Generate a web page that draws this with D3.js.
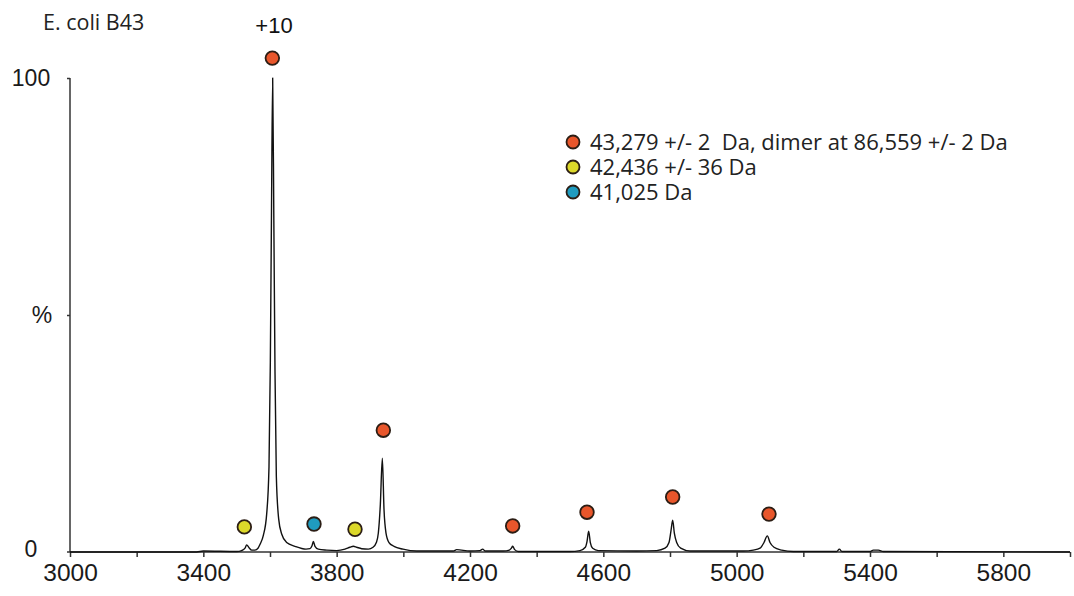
<!DOCTYPE html>
<html>
<head>
<meta charset="utf-8">
<script src="https://cdn.jsdelivr.net/npm/d3@7"></script>
<style>
  body { margin: 0; background: #fff; }
  svg { display: block; }
  .legend text { white-space: pre; }
</style>
</head>
<body>
<div id="chart"></div>
<script>
// spectrum trace: m/z and relative intensity (%)
const mz = [3000, 3380, 3400, 3500, 3515, 3525, 3530, 3537, 3545, 3555, 3564, 3570, 3580, 3590, 3597, 3601, 3604.5, 3608, 3611.5, 3615, 3619, 3626, 3635, 3650, 3675, 3708, 3720, 3726, 3730, 3735, 3745, 3770, 3800, 3825, 3840, 3850, 3860, 3875, 3895, 3909, 3919, 3925, 3931, 3937, 3942, 3948, 3957, 3972, 3999, 4040, 4150, 4160, 4200, 4230, 4238, 4246, 4300, 4318, 4324, 4328, 4334, 4345, 4500, 4530, 4546, 4551, 4556, 4561, 4568, 4585, 4700, 4760, 4785, 4797, 4803, 4808, 4813, 4820, 4832, 4860, 5020, 5050, 5070, 5082, 5092, 5100, 5112, 5135, 5170, 5300, 5308, 5316, 5400, 5410, 5425, 5440, 6000];
const pct = [0, 0, 0.2, 0.1, 0.3, 0.8, 1.5, 0.9, 0.4, 0.4, 0.8, 1.6, 3.5, 8, 18, 40, 72, 100, 70, 38, 16, 7, 3.8, 2.0, 1.2, 0.6, 0.7, 1.3, 2.2, 1.2, 0.6, 0.4, 0.3, 0.6, 1.0, 1.2, 1.0, 0.7, 0.6, 1.0, 2.0, 4, 10, 19.8, 9, 4, 2.0, 1.2, 0.6, 0.2, 0.2, 0.5, 0.2, 0.3, 0.6, 0.2, 0.2, 0.4, 0.8, 1.2, 0.5, 0.1, 0.1, 0.3, 1.0, 2.2, 4.4, 2.0, 0.8, 0.3, 0.2, 0.3, 0.8, 2.0, 4.5, 6.7, 4.0, 2.0, 0.8, 0.2, 0.2, 0.4, 0.8, 2.0, 3.4, 2.0, 1.0, 0.4, 0.1, 0.1, 0.6, 0.1, 0.1, 0.4, 0.4, 0.1, 0];

// charge-state markers
const markMz = [3523, 3607, 3732, 3855, 3940, 4328, 4551, 4808, 5097];
const markPct = [5.3, 104.2, 5.9, 4.8, 25.7, 5.5, 8.4, 11.6, 8.0];
const markSeries = ['b', 'a', 'c', 'b', 'a', 'a', 'a', 'a', 'a'];

const seriesKeys = ['a', 'b', 'c'];
const seriesLabels = ['43,279 +/- 2  Da, dimer at 86,559 +/- 2 Da', '42,436 +/- 36 Da', '41,025 Da'];
const seriesColors = ['#e8562b', '#dcd82a', '#1f9bbf'];

const xTicks = [3000, 3200, 3400, 3600, 3800, 4000, 4200, 4400, 4600, 4800, 5000, 5200, 5400, 5600, 5800, 6000];
const xLabels = [3000, 3400, 3800, 4200, 4600, 5000, 5400, 5800];
const yTicks = [0, 50, 100];

const width = 1074, height = 596;

const x = d3.scaleLinear().domain([3000, 6000]).range([70, 1070]);
const y = d3.scaleLinear().domain([0, 100]).range([552, 78]);
const color = d3.scaleOrdinal().domain(seriesKeys).range(seriesColors);

const svg = d3.select('#chart')
.append('svg')
.attr('width', width)
.attr('height', height);

// x axis
const xAxis = svg.append('g')
.attr('transform', `translate(0,${y(0)})`)
.call(d3.axisBottom(x)
  .tickValues(xTicks)
  .tickSize(5)
  .tickPadding(7)
  .tickFormat(d => xLabels.includes(d) ? d : ''));
xAxis.select('.domain').attr('d', `M${x(3000) - 3},0H${x(6000)}`);
xAxis.selectAll('path, line').attr('stroke', '#333').attr('stroke-width', 1.5);
xAxis.selectAll('text')
.attr('font-family', 'Liberation Sans, Arial, sans-serif')
.attr('font-size', 24.5)
.attr('fill', '#1a1a1a');

// y axis
const yAxis = svg.append('g')
.attr('transform', `translate(${x(3000)},0)`)
.call(d3.axisLeft(y)
  .tickValues(yTicks)
  .tickSize(3)
  .tickFormat(d => d === 50 ? '%' : d));
yAxis.select('.domain').attr('d', `M0,${y(100)}V${y(0)}`);
yAxis.selectAll('path, line').attr('stroke', '#333').attr('stroke-width', 1.5);
yAxis.selectAll('.tick').filter(d => d === 0).select('line').remove();
yAxis.selectAll('text')
.attr('font-family', 'Liberation Sans, Arial, sans-serif')
.attr('font-size', 23)
.attr('fill', '#1a1a1a')
.attr('text-anchor', 'middle')
.attr('x', d => d === 50 ? -28 : -39)
.attr('dy', d => d === 0 ? '0.2em' : '0.32em');

// spectrum
const pts = mz.map((m, i) => [m, pct[i]]);
svg.append('path')
.datum(pts)
.attr('fill', 'none')
.attr('stroke', '#111')
.attr('stroke-width', 1.4)
.attr('stroke-linejoin', 'round')
.attr('d', d3.line().curve(d3.curveMonotoneX).x(d => x(d[0])).y(d => y(d[1])));

// markers
svg.append('g')
.selectAll('circle')
.data(markMz.map((m, i) => ({m: m, p: markPct[i], s: markSeries[i]})))
.join('circle')
.attr('cx', d => x(d.m))
.attr('cy', d => y(d.p))
.attr('r', 6.8)
.attr('fill', d => color(d.s))
.attr('stroke', '#2b1d14')
.attr('stroke-width', 1.8);

// annotations
svg.append('text')
.attr('x', 43).attr('y', 30)
.attr('font-family', 'Open Sans, sans-serif')
.attr('font-size', 21.5)
.attr('fill', '#222')
.text('E. coli B43');

svg.append('text')
.attr('x', x(3612)).attr('y', 33)
.attr('text-anchor', 'middle')
.attr('font-family', 'Liberation Sans, Arial, sans-serif')
.attr('font-size', 22)
.attr('fill', '#111')
.text('+10');

// legend
const legend = svg.append('g')
.attr('class', 'legend')
.attr('transform', 'translate(573,142)')
.selectAll('g')
.data(seriesKeys)
.join('g')
.attr('transform', (d, i) => `translate(0,${i * 25})`);

legend.append('circle')
.attr('r', 6.5)
.attr('fill', d => color(d))
.attr('stroke', '#2b1d14')
.attr('stroke-width', 1.8);

legend.append('text')
.attr('x', 17).attr('y', 8)
.attr('font-family', 'Open Sans, sans-serif')
.attr('font-size', 22)
.attr('fill', '#222')
.text((d, i) => seriesLabels[i]);
</script>
</body>
</html>
